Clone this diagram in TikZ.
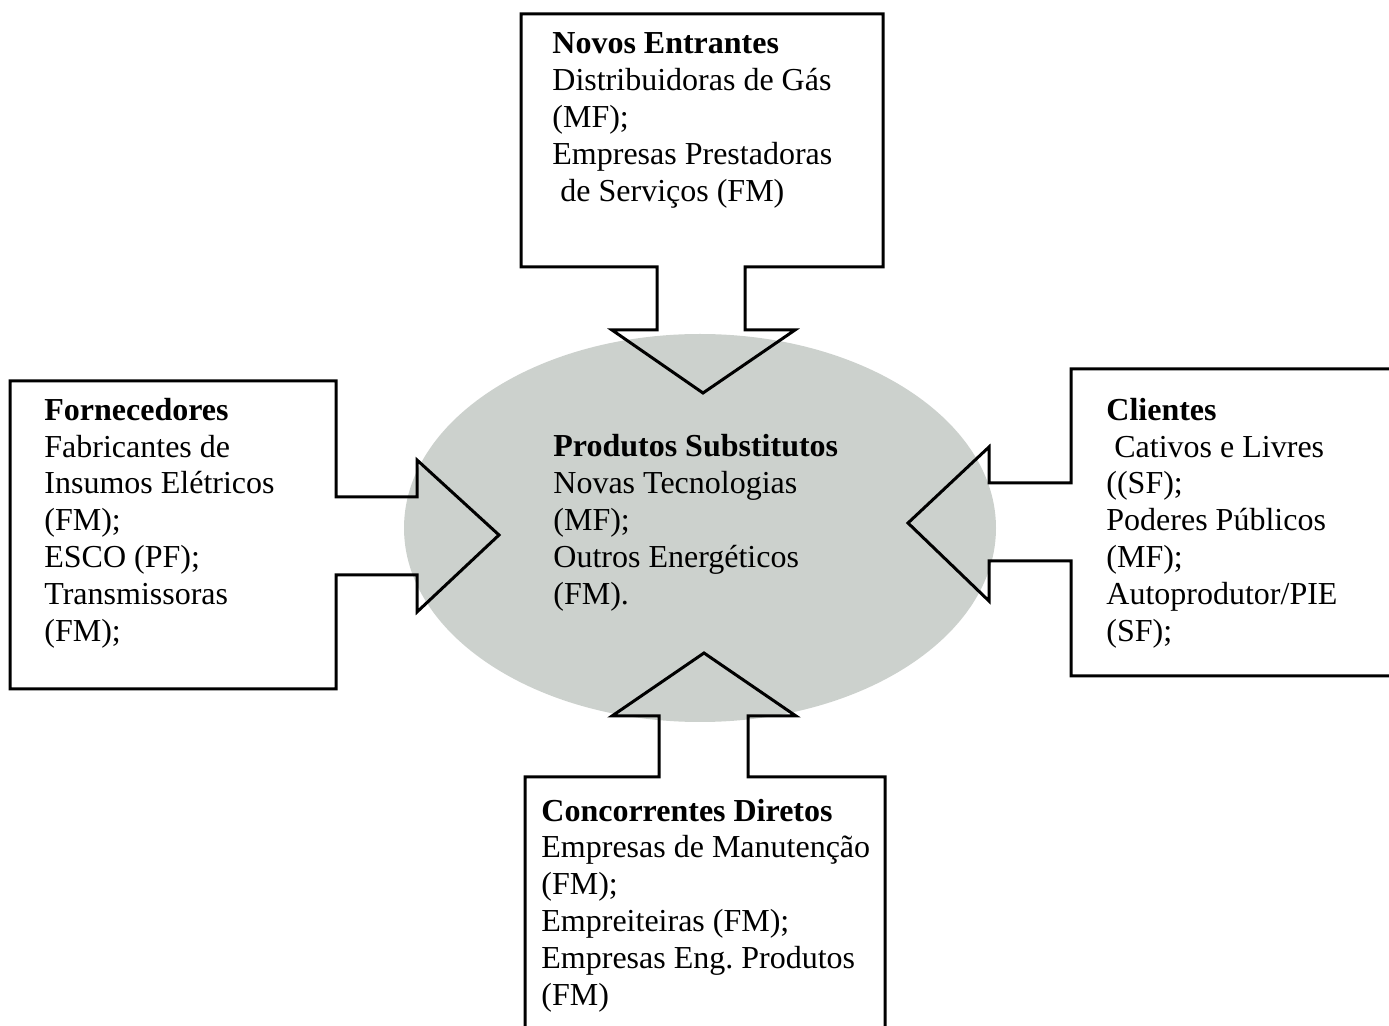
\documentclass[tikz,border=0pt]{standalone}
\usepackage{fontspec}
\setmainfont{Liberation Serif}
\usepackage{xcolor}
\usetikzlibrary{positioning,calc}
\definecolor{cinzaponto}{RGB}{204,209,205}

\begin{document}
\begin{tikzpicture}[x=0.5pt,y=-0.5pt]
  % Definir estilos (texto ancorado na linha de base da ultima linha)
  \tikzstyle{contorno}=[draw=black, line width=1.5pt, line join=miter]
  \tikzstyle{texto}=[anchor=base west, inner sep=0pt, align=left, font=\fontsize{16}{18.5}\selectfont]
  \useasboundingbox (0,0) rectangle (1389,1026);

  % Elipse central
  \fill[cinzaponto] (700,528) ellipse [x radius=296, y radius=194];
  \node[texto] (substitutos) at (553,605) {\textbf{Produtos Substitutos}\\Novas Tecnologias\\(MF);\\Outros Energéticos\\(FM).};

  % Novos entrantes (em cima)
  \draw[contorno] (521,14) -- (883,14) -- (883,267) -- (745,267) -- (745,330) -- (795,330)
    -- (703,393) -- (612,330) -- (657,330) -- (657,267) -- (521,267) -- cycle;
  \node[texto] (entrantes) at (552,202) {\textbf{Novos Entrantes}\\Distribuidoras de Gás\\(MF);\\Empresas Prestadoras\\ \ de Serviços (FM)};

  % Fornecedores (esquerda)
  \draw[contorno] (10,381) -- (336,381) -- (336,497) -- (417,497) -- (417,460) -- (499,535)
    -- (417,612) -- (417,575) -- (336,575) -- (336,689) -- (10,689) -- cycle;
  \node[texto] (fornecedores) at (44,642) {\textbf{Fornecedores}\\Fabricantes de\\Insumos Elétricos\\(FM);\\ESCO (PF);\\Transmissoras\\(FM);};

  % Clientes (direita)
  \draw[contorno] (1395,369) -- (1071,369) -- (1071,483) -- (989,483) -- (989,447) -- (908,523)
    -- (989,601) -- (989,561) -- (1071,561) -- (1071,676) -- (1395,676);
  \node[texto] (clientes) at (1106,642) {\textbf{Clientes}\\ \ Cativos e Livres\\((SF);\\Poderes Públicos\\(MF);\\Autoprodutor/PIE\\(SF);};

  % Concorrentes diretos (em baixo)
  \draw[contorno] (525,1032) -- (525,777) -- (659,777) -- (659,716) -- (612,716) -- (704,653)
    -- (796,716) -- (748,716) -- (748,777) -- (885,777) -- (885,1032);
  \node[texto] (concorrentes) at (541,1006) {\textbf{Concorrentes Diretos}\\Empresas de Manutenção\\(FM);\\Empreiteiras (FM);\\Empresas Eng.\ Produtos\\(FM)};
\end{tikzpicture}
\end{document}
